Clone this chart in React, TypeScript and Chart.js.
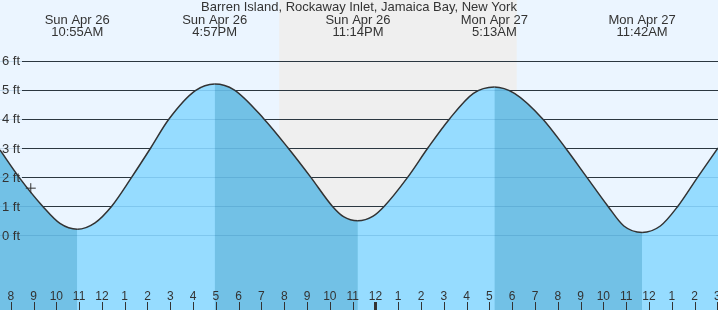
import React, { useEffect, useRef } from "react";
import { Chart, registerables } from "chart.js";

Chart.register(...registerables);

// ---- data (hours counted from Sun Apr 26 00:00) ----
const chartTitle = "Barren Island, Rockaway Inlet, Jamaica Bay, New York";
const tideHours = [7.53, 8.36, 9.4, 10.16, 10.92, 11.7, 12.43, 13.31, 14.14, 14.92, 16.1, 16.95, 17.8, 19.11, 20.17, 21.16, 22.11, 22.6, 23.23, 23.9, 24.39, 25.42, 26.3, 27.25, 28.3, 29.22, 30.1, 31.34, 32.34, 33.27, 34.2, 34.9, 35.7, 36.5, 37.27, 38.14, 39.03];
const tideFeet = [2.93, 2.0, 1.0, 0.41, 0.21, 0.43, 1.0, 2.0, 3.0, 3.97, 4.97, 5.2, 5.0, 4.0, 3.0, 2.0, 1.0, 0.64, 0.5, 0.66, 1.0, 2.0, 3.0, 4.0, 4.88, 5.1, 4.88, 4.0, 3.0, 2.0, 1.0, 0.32, 0.1, 0.32, 1.0, 2.0, 3.0];
const extremeHours = [10.917, 16.95, 23.233, 29.217, 35.7];
const extremeDays = ["Sun Apr 26", "Sun Apr 26", "Sun Apr 26", "Mon Apr 27", "Mon Apr 27"];
const extremeTimes = ["10:55AM", "4:57PM", "11:14PM", "5:13AM", "11:42AM"];
const hourTicks = [8, 9, 10, 11, 12, 13, 14, 15, 16, 17, 18, 19, 20, 21, 22, 23, 24, 25, 26, 27, 28, 29, 30, 31, 32, 33, 34, 35, 36, 37, 38, 39];
const hourLabels = ["8", "9", "10", "11", "12", "1", "2", "3", "4", "5", "6", "7", "8", "9", "10", "11", "12", "1", "2", "3", "4", "5", "6", "7", "8", "9", "10", "11", "12", "1", "2", "3"];
const feetTicks = [0, 1, 2, 3, 4, 5, 6];
const feetLabels = ["0 ft", "1 ft", "2 ft", "3 ft", "4 ft", "5 ft", "6 ft"];
const nightStart = 19.78;
const nightEnd = 30.2;
const midnightHour = 24;
const nowHour = 8.88;
const nowFeet = 1.62;
const xMin = 7.53;
const xMax = 39.03;
const yMin = -2.567;
const yMax = 8.086;

const FONT = '"Liberation Sans", Arial, sans-serif';
const TEXT = "#333333";
const DAY_BG = "rgb(235,245,255)";
const NIGHT_BG = "rgb(239,239,239)";
const RISE_FILL = "rgb(150,220,255)";
const FALL_FILL = "rgb(114,193,230)";

const decorPlugin = {
  id: "tideDecor",
  beforeDraw(chart: any) {
    const { ctx, scales } = chart;
    const x = scales.x;
    ctx.save();
    ctx.fillStyle = DAY_BG;
    ctx.fillRect(0, 0, chart.width, chart.height);
    const n0 = x.getPixelForValue(nightStart);
    const n1 = x.getPixelForValue(nightEnd);
    ctx.fillStyle = NIGHT_BG;
    ctx.fillRect(n0, 0, n1 - n0, chart.height);
    ctx.restore();
  },
  beforeDatasetsDraw(chart: any) {
    const { ctx, scales } = chart;
    const y = scales.y;
    ctx.save();
    ctx.strokeStyle = "#333333";
    ctx.lineWidth = 1;
    feetTicks.forEach((f) => {
      const py = Math.round(y.getPixelForValue(f)) + 0.5;
      ctx.beginPath();
      ctx.moveTo(22, py);
      ctx.lineTo(chart.width, py);
      ctx.stroke();
    });
    ctx.restore();
  },
  afterDatasetsDraw(chart: any) {
    const { ctx, scales } = chart;
    const x = scales.x;
    const y = scales.y;
    ctx.save();
    ctx.strokeStyle = "rgba(0,80,140,0.15)";
    ctx.lineWidth = 1;
    feetTicks.forEach((f) => {
      const py = Math.round(y.getPixelForValue(f)) + 0.5;
      ctx.beginPath();
      ctx.moveTo(0, py);
      ctx.lineTo(chart.width, py);
      ctx.stroke();
    });
    ctx.fillStyle = TEXT;
    ctx.font = `13px ${FONT}`;
    ctx.textAlign = "left";
    ctx.textBaseline = "alphabetic";
    feetTicks.forEach((f, i) => {
      const py = y.getPixelForValue(f);
      ctx.fillText(feetLabels[i], 2, py + 4.5);
    });
    ctx.font = `12px ${FONT}`;
    ctx.textAlign = "center";
    ctx.strokeStyle = "#333333";
    hourTicks.forEach((h, i) => {
      const px = x.getPixelForValue(h);
      ctx.fillText(hourLabels[i], px, 300);
      if (h === midnightHour) {
        ctx.fillRect(Math.round(px) - 1, 302, 3, 8);
      } else {
        ctx.beginPath();
        ctx.moveTo(Math.round(px) + 0.5, 302);
        ctx.lineTo(Math.round(px) + 0.5, 310);
        ctx.stroke();
      }
    });
    ctx.font = `13px ${FONT}`;
    extremeHours.forEach((h, i) => {
      const px = x.getPixelForValue(h);
      ctx.fillText(extremeDays[i], px, 24);
      ctx.fillText(extremeTimes[i], px, 36);
    });
    ctx.fillText(chartTitle, chart.width / 2, 11);
    ctx.restore();
  },
};

export default function App() {
  const ref = useRef<HTMLCanvasElement | null>(null);
  useEffect(() => {
    const canvas = ref.current;
    if (!canvas) return;
    const tidePoints = tideHours.map((h, i) => ({ x: h, y: tideFeet[i] }));
    const chart = new Chart(canvas, {
      type: "line",
      data: {
        datasets: [
          {
            label: "now",
            data: [{ x: nowHour, y: nowFeet }],
            showLine: false,
            pointStyle: "cross",
            pointRadius: 5,
            pointBorderColor: "#333333",
            pointBorderWidth: 1,
            borderColor: "#333333",
            fill: false,
          } as any,
          {
            label: "tide",
            data: tidePoints,
            borderColor: "#333333",
            borderWidth: 1.5,
            backgroundColor: RISE_FILL,
            fill: "start",
            cubicInterpolationMode: "monotone",
            pointRadius: 0,
            segment: {
              backgroundColor: (c: any) => (c.p1.parsed.y < c.p0.parsed.y ? FALL_FILL : RISE_FILL),
            },
          } as any,
          {
            label: "water",
            data: tidePoints,
            borderWidth: 0,
            borderColor: "rgba(0,0,0,0)",
            backgroundColor: RISE_FILL,
            fill: "start",
            cubicInterpolationMode: "monotone",
            pointRadius: 0,
          } as any,
        ],
      },
      options: {
        responsive: false,
        animation: false,
        devicePixelRatio: 1,
        layout: { padding: 0, autoPadding: false },
        events: [],
        plugins: {
          legend: { display: false },
          tooltip: { enabled: false },
          title: { display: false },
        },
        scales: {
          x: { type: "linear", min: xMin, max: xMax, display: false },
          y: { type: "linear", min: yMin, max: yMax, display: false },
        },
      },
      plugins: [decorPlugin],
    } as any);
    return () => chart.destroy();
  }, []);
  return (
    <div style={{ position: "fixed", left: 0, top: 0, width: 718, height: 310 }}>
      <canvas ref={ref} width={718} height={310} style={{ display: "block", width: 718, height: 310 }} />
    </div>
  );
}
